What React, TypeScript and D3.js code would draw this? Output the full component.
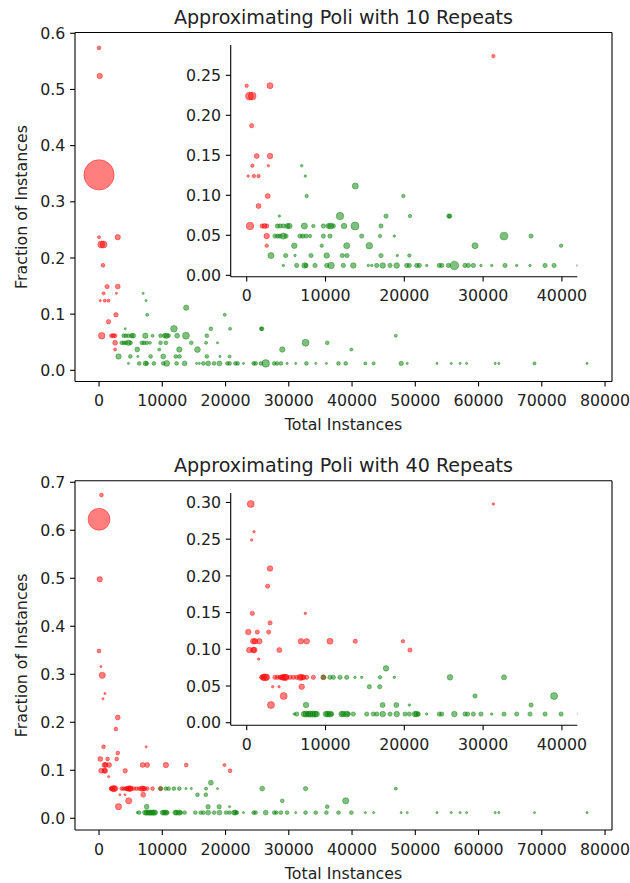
import * as d3 from 'd3';

// [total instances, fraction of instances, count]
type Pt = [number, number, number];

const TITLE_10 = 'Approximating Poli with 10 Repeats';
const TITLE_40 = 'Approximating Poli with 40 Repeats';
const X_LABEL = 'Total Instances';
const Y_LABEL = 'Fraction of Instances';

const MAIN_X_TICKS = [0, 10000, 20000, 30000, 40000, 50000, 60000, 70000, 80000];
const INSET_X_TICKS = [0, 10000, 20000, 30000, 40000];
const MAIN_Y_TICKS_10 = [0, 0.1, 0.2, 0.3, 0.4, 0.5, 0.6];
const MAIN_Y_TICKS_40 = [0, 0.1, 0.2, 0.3, 0.4, 0.5, 0.6, 0.7];
const INSET_Y_TICKS_10 = [0, 0.05, 0.1, 0.15, 0.2, 0.25];
const INSET_Y_TICKS_40 = [0, 0.05, 0.1, 0.15, 0.2, 0.25, 0.3];

// ---- 10 repeats ----
const RED_10: Pt[] = [
  [0, 0.574, 3], [110, 0.524, 6], [0, 0.348, 190], [0, 0.237, 2],
  [350, 0.224, 10], [700, 0.224, 10], [2960, 0.237, 6], [630, 0.187, 3],
  [1270, 0.149, 4], [2960, 0.149, 5], [720, 0.137, 2], [2750, 0.137, 1],
  [190, 0.124, 1], [910, 0.124, 2], [1500, 0.124, 2], [2670, 0.099, 4],
  [1500, 0.0866, 4], [420, 0.0616, 9], [1950, 0.0616, 3], [2250, 0.0616, 4],
  [2540, 0.0616, 3], [2540, 0.049, 5], [2540, 0.037, 2], [31300, 0.274, 2],
];

const GREEN_10: Pt[] = [
  // bottom row
  [4650, 0.0123, 1], [6345, 0.0123, 3], [7350, 0.0123, 5], [7530, 0.0123, 3],
  [8670, 0.0123, 3], [10150, 0.0123, 3], [10700, 0.0123, 7], [12260, 0.0123, 3],
  [13530, 0.0123, 5], [15430, 0.0123, 1], [15860, 0.0123, 1], [16500, 0.0123, 3],
  [17260, 0.0123, 5], [18190, 0.0123, 3], [19035, 0.0123, 5], [20300, 0.0123, 3],
  [20640, 0.0123, 3], [21570, 0.0123, 3], [21900, 0.0123, 3], [22840, 0.0123, 1],
  [24440, 0.0123, 3], [24750, 0.0123, 3], [25590, 0.0123, 3], [26350, 0.0123, 12],
  [27700, 0.0123, 3], [28130, 0.0123, 3], [28760, 0.0123, 3], [29730, 0.0123, 1],
  [31090, 0.0123, 1], [32780, 0.0123, 3], [34260, 0.0123, 1], [35950, 0.0123, 1],
  [37860, 0.0123, 3], [39000, 0.0123, 3], [42100, 0.0123, 2], [43410, 0.0123, 2],
  [47770, 0.0123, 4], [48730, 0.0123, 1], [53420, 0.0123, 1], [55680, 0.0123, 1],
  [57100, 0.0123, 1], [58110, 0.0123, 1], [62630, 0.0123, 1], [63200, 0.0123, 1],
  [68850, 0.0123, 2], [77160, 0.0123, 1],
  // 0.025
  [3080, 0.0247, 6], [4950, 0.0247, 3], [6130, 0.0247, 1], [8160, 0.0247, 3],
  [10150, 0.0247, 5], [12130, 0.0247, 3], [12730, 0.0247, 3], [17040, 0.0247, 3],
  [19110, 0.0247, 1], [20640, 0.0247, 2],
  // 0.037
  [6040, 0.037, 5], [9520, 0.037, 2], [12690, 0.037, 6], [15560, 0.037, 7],
  [28970, 0.037, 6], [39890, 0.037, 2],
  // 0.049
  [3590, 0.049, 3], [3930, 0.049, 3], [4230, 0.049, 3], [4650, 0.049, 6],
  [4990, 0.049, 3], [6770, 0.049, 3], [7100, 0.049, 3], [7530, 0.049, 3],
  [8040, 0.049, 2], [9730, 0.049, 3], [10570, 0.049, 3], [14590, 0.049, 3],
  [16920, 0.049, 2], [18730, 0.049, 1], [32650, 0.049, 10], [36080, 0.049, 3],
  // 0.062
  [3890, 0.0616, 3], [4230, 0.0616, 3], [4650, 0.0616, 3], [5160, 0.0616, 4],
  [5410, 0.0616, 5], [7320, 0.0616, 6], [8460, 0.0616, 2], [9730, 0.0616, 3],
  [10360, 0.0616, 4], [10660, 0.0616, 6], [11000, 0.0616, 3], [12350, 0.0616, 5],
  [13740, 0.0616, 10], [17040, 0.0616, 3], [46920, 0.0616, 2],
  // higher
  [4140, 0.074, 1], [11840, 0.074, 9], [17680, 0.074, 3], [20720, 0.074, 2],
  [25650, 0.074, 3], [25770, 0.074, 3],
  [7610, 0.099, 2], [19870, 0.099, 2], [13780, 0.1116, 6],
  [7440, 0.124, 1], [6980, 0.137, 1],
];

// ---- 40 repeats ----
const RED_40: Pt[] = [
  [380, 0.6735, 3], [0, 0.623, 100], [110, 0.498, 6], [0, 0.3485, 3],
  [300, 0.316, 1], [510, 0.298, 8], [31300, 0.298, 1], [930, 0.26, 1],
  [630, 0.249, 1], [2960, 0.21, 5], [2660, 0.186, 3], [720, 0.149, 3],
  [7440, 0.149, 1], [2960, 0.136, 3], [200, 0.1235, 5], [1350, 0.1235, 3],
  [2790, 0.1235, 3], [840, 0.111, 5], [1050, 0.111, 5], [1600, 0.111, 5],
  [6890, 0.111, 5], [7610, 0.111, 5], [10570, 0.111, 6], [13780, 0.111, 3],
  [19830, 0.111, 2], [330, 0.099, 5], [840, 0.099, 5], [970, 0.099, 5],
  [4140, 0.099, 4], [20720, 0.099, 3], [1520, 0.0867, 1],
  [1900, 0.0618, 3], [2110, 0.0618, 6], [2320, 0.0618, 8], [2540, 0.0618, 6],
  [3590, 0.0618, 3], [3890, 0.0618, 3], [4230, 0.0618, 3], [4440, 0.0618, 4],
  [4650, 0.0618, 6], [4860, 0.0618, 6], [4990, 0.0618, 6], [5500, 0.0618, 3],
  [5920, 0.0618, 3], [6345, 0.0618, 3], [6770, 0.0618, 6], [6980, 0.0618, 5],
  [7190, 0.0618, 4], [7610, 0.0618, 3], [8460, 0.0618, 3], [9730, 0.0618, 4],
  [3300, 0.049, 1], [4100, 0.049, 1], [6980, 0.049, 5],
  [4690, 0.0364, 8], [3080, 0.0241, 8],
];

const GREEN_40: Pt[] = [
  [9730, 0.0618, 3], [10570, 0.0618, 3], [11000, 0.0618, 3], [11840, 0.0618, 3],
  [12690, 0.0618, 3], [13740, 0.0618, 1], [14590, 0.0618, 1], [16920, 0.0618, 2],
  [18730, 0.0618, 1], [25800, 0.0618, 5], [32650, 0.0618, 4], [46920, 0.0618, 2],
  [15560, 0.049, 3], [16880, 0.049, 3],
  [28970, 0.0364, 3], [39000, 0.0364, 8],
  [7530, 0.0241, 5], [17240, 0.0241, 4], [18990, 0.0241, 4], [20640, 0.0241, 1],
  [36080, 0.0241, 3], [17680, 0.074, 5],
  // bottom row
  [6040, 0.0118, 1], [6345, 0.0118, 3], [7270, 0.0118, 5], [7530, 0.0118, 6],
  [7820, 0.0118, 5], [8040, 0.0118, 6], [8380, 0.0118, 6], [8670, 0.0118, 6],
  [8880, 0.0118, 5], [10060, 0.0118, 5], [10270, 0.0118, 5], [10570, 0.0118, 6],
  [10780, 0.0118, 3], [12050, 0.0118, 5], [12260, 0.0118, 5], [12690, 0.0118, 6],
  [12900, 0.0118, 3], [13530, 0.0118, 3], [15230, 0.0118, 3], [16070, 0.0118, 3],
  [16500, 0.0118, 3], [17260, 0.0118, 5], [18190, 0.0118, 3], [19035, 0.0118, 5],
  [20090, 0.0118, 3], [20640, 0.0118, 3], [21360, 0.0118, 5], [21570, 0.0118, 5],
  [21780, 0.0118, 3], [22840, 0.0118, 1], [24440, 0.0118, 3], [24750, 0.0118, 3],
  [26350, 0.0118, 5], [27700, 0.0118, 3], [28030, 0.0118, 3], [28760, 0.0118, 3],
  [29730, 0.0118, 3], [31090, 0.0118, 1], [32650, 0.0118, 3], [34260, 0.0118, 3],
  [35950, 0.0118, 3], [37860, 0.0118, 3], [39890, 0.0118, 3], [42100, 0.0118, 1],
  [43410, 0.0118, 1], [47770, 0.0118, 1], [48730, 0.0118, 1], [53420, 0.0118, 1],
  [55680, 0.0118, 1], [57100, 0.0118, 1], [58110, 0.0118, 1], [62630, 0.0118, 1],
  [63200, 0.0118, 1], [68850, 0.0118, 1], [77160, 0.0118, 1],
];

const FONT = 'DejaVu Sans, sans-serif';
const TICK_FS = 15.8;
const TITLE_FS = 19.1;

interface AxesProps {
  id: string;
  box: { left: number; right: number; top: number; bottom: number };
  xDomain: [number, number];
  yDomain: [number, number];
  xTicks: number[];
  yTicks: number[];
  yFmt: (v: number) => string;
  red: Pt[];
  green: Pt[];
  rScale: number;
  inset?: boolean;
}

function Axes({ id, box, xDomain, yDomain, xTicks, yTicks, yFmt, red, green, rScale, inset }: AxesProps) {
  const x = d3.scaleLinear().domain(xDomain).range([box.left, box.right]);
  const y = d3.scaleLinear().domain(yDomain).range([box.bottom, box.top]);
  const r = d3.scaleSqrt().domain([0, 100]).range([0, 10 * rScale]);
  const dot = (color: string) => (d: Pt, i: number) => (
    <circle key={color + i} cx={x(d[0])} cy={y(d[1])} r={r(d[2])}
      fill={color} fillOpacity={0.5} stroke={color} strokeOpacity={0.5} strokeWidth={0.8} />
  );
  const fmtX = d3.format('d');
  return (
    <g>
      <defs>
        <clipPath id={id}>
          <rect x={box.left} y={box.top} width={box.right - box.left} height={box.bottom - box.top} />
        </clipPath>
      </defs>
      {inset && (
        <rect x={box.left} y={box.top} width={box.right - box.left} height={box.bottom - box.top} fill="#fff" />
      )}
      <g clipPath={`url(#${id})`}>
        {red.map(dot('#ff0000'))}
        {green.map(dot('#008000'))}
      </g>
      <g stroke="#000" strokeWidth={1.1} fill="none">
        <line x1={box.left} x2={box.left} y1={box.top} y2={box.bottom} />
        <line x1={box.left} x2={box.right} y1={box.bottom} y2={box.bottom} />
        {!inset && <line x1={box.left} x2={box.right} y1={box.top} y2={box.top} />}
        {!inset && <line x1={box.right} x2={box.right} y1={box.top} y2={box.bottom} />}
      </g>
      {xTicks.map((t) => (
        <g key={'x' + t}>
          <line x1={x(t)} x2={x(t)} y1={box.bottom} y2={box.bottom + 4.9} stroke="#000" strokeWidth={1.1} />
          <text x={x(t)} y={box.bottom + 24.6} textAnchor="middle" fontSize={TICK_FS} fontFamily={FONT} fill="#222">
            {fmtX(t)}
          </text>
        </g>
      ))}
      {yTicks.map((t) => (
        <g key={'y' + t}>
          <line x1={box.left - 4.9} x2={box.left} y1={y(t)} y2={y(t)} stroke="#000" strokeWidth={1.1} />
          <text x={box.left - 9.6} y={y(t)} dy="0.36em" textAnchor="end" fontSize={TICK_FS} fontFamily={FONT} fill="#222">
            {yFmt(t)}
          </text>
        </g>
      ))}
    </g>
  );
}

interface PanelProps {
  id: string;
  top: number;
  title: string;
  red: Pt[];
  green: Pt[];
  mainY: [number, number];
  mainBottom: number;
  mainYTicks: number[];
  insetTop: number;
  insetBottom: number;
  insetY: [number, number];
  insetYTicks: number[];
}

function Panel(p: PanelProps) {
  const main = { left: 75, right: 612, top: p.top, bottom: p.mainBottom };
  const inset = { left: 230.7, right: 577.3, top: p.insetTop, bottom: p.insetBottom };
  const cx = (main.left + main.right) / 2;
  return (
    <g>
      <text x={cx} y={main.top - 8.5} textAnchor="middle" fontSize={TITLE_FS} fontFamily={FONT} fill="#222">
        {p.title}
      </text>
      <Axes id={p.id + 'm'} box={main} xDomain={[-3800, 81100]} yDomain={p.mainY}
        xTicks={MAIN_X_TICKS} yTicks={p.mainYTicks} yFmt={d3.format('.1f')}
        red={p.red} green={p.green} rScale={1.1} />
      <text x={cx} y={main.bottom + 48.5} textAnchor="middle" fontSize={TICK_FS} fontFamily={FONT} fill="#222">
        {X_LABEL}
      </text>
      <text transform={`translate(26.5,${(main.top + main.bottom) / 2}) rotate(-90)`} textAnchor="middle"
        fontSize={TICK_FS} fontFamily={FONT} fill="#222">
        {Y_LABEL}
      </text>
      <Axes id={p.id + 'i'} box={inset} xDomain={[-2030, 41950]} yDomain={p.insetY}
        xTicks={INSET_X_TICKS} yTicks={p.insetYTicks} yFmt={d3.format('.2f')}
        red={p.red} green={p.green} rScale={1.25} inset />
    </g>
  );
}

export default function App() {
  return (
    <svg width={630} height={883} viewBox="0 0 630 883"
      style={{ position: 'absolute', left: 0, top: 0, display: 'block', background: '#fff' }}>
      <rect width={630} height={883} fill="#fff" />
      <Panel id="p10" top={32.5} mainBottom={381.5} title={TITLE_10} red={RED_10} green={GREEN_10}
        mainY={[-0.0199, 0.6014]} mainYTicks={MAIN_Y_TICKS_10}
        insetTop={45} insetBottom={276.7} insetY={[-0.00175, 0.2879]} insetYTicks={INSET_Y_TICKS_10} />
      <Panel id="p40" top={480.7} mainBottom={830} title={TITLE_40} red={RED_40} green={GREEN_40}
        mainY={[-0.0244, 0.7033]} mainYTicks={MAIN_Y_TICKS_40}
        insetTop={493} insetBottom={725.3} insetY={[-0.0035, 0.3129]} insetYTicks={INSET_Y_TICKS_40} />
    </svg>
  );
}
